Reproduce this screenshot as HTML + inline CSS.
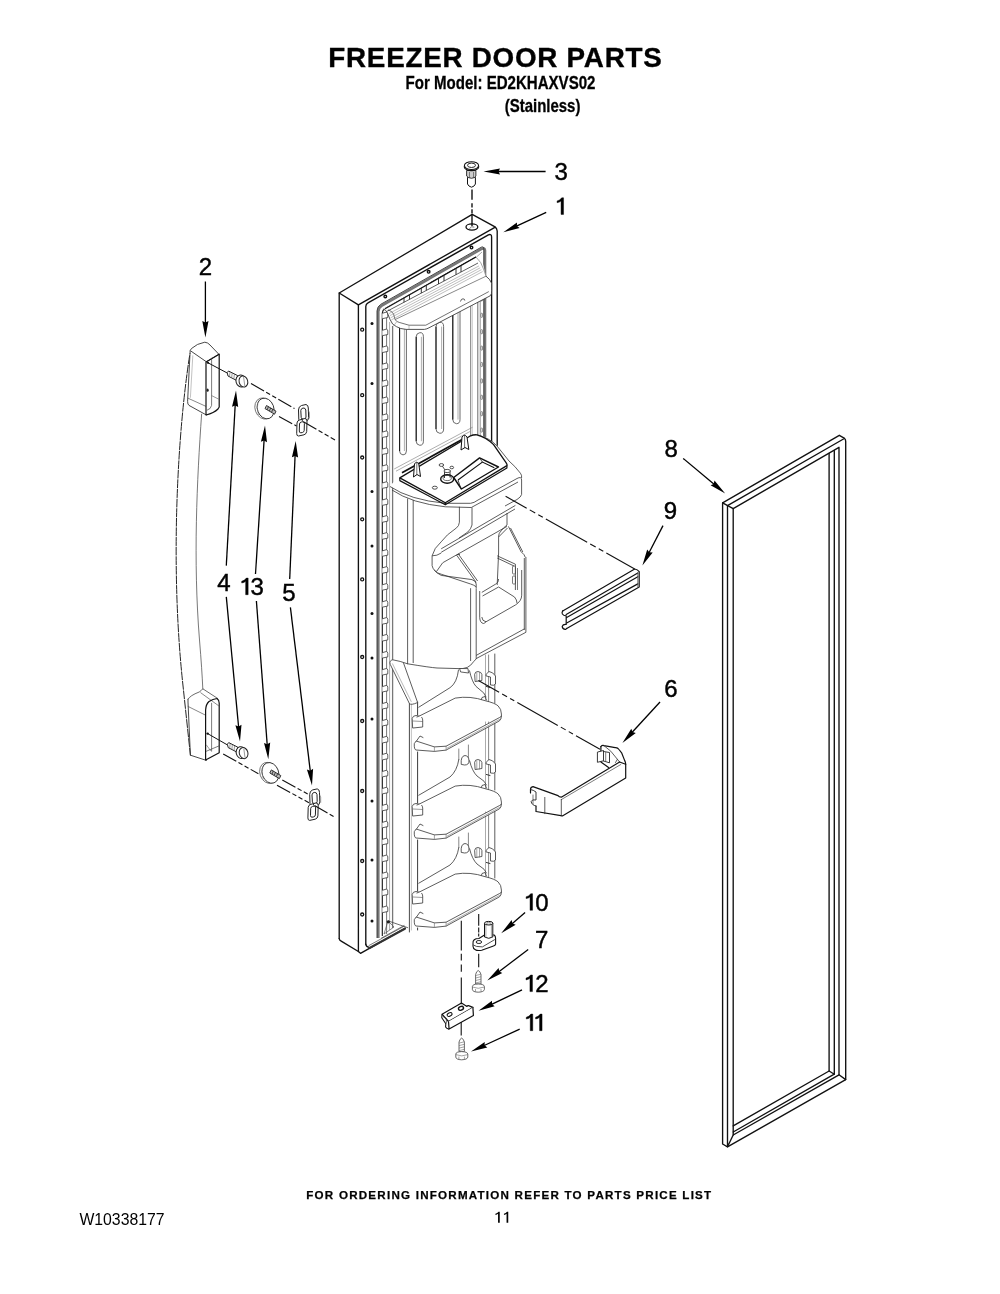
<!DOCTYPE html>
<html><head><meta charset="utf-8"><title>Freezer Door Parts</title>
<style>
html,body{margin:0;padding:0;background:#fff;}
body{width:1000px;height:1294px;overflow:hidden;position:relative;font-family:"Liberation Sans",sans-serif;}
svg{position:absolute;left:0;top:0;}
.k{fill:none;stroke:#111;stroke-width:1.35;stroke-linejoin:round;stroke-linecap:round;}
.m{fill:none;stroke:#222;stroke-width:1;stroke-linejoin:round;stroke-linecap:round;}
.t{fill:none;stroke:#444;stroke-width:0.7;stroke-linejoin:round;stroke-linecap:round;}
.g{fill:none;stroke:#888;stroke-width:0.8;}
.w{fill:#fff;}
.lbl{font-family:"Liberation Sans",sans-serif;font-size:22.5px;fill:#000;}
</style></head>
<body>
<svg width="1000" height="1294" viewBox="0 0 1000 1294">
<!-- text -->
<g opacity="0.999">
<g font-family="Liberation Sans, sans-serif" fill="#000">
<text x="328.3" y="66.7" font-size="27.8" font-weight="bold" letter-spacing="0.75" stroke="#000" stroke-width="0.35">FREEZER DOOR PARTS</text>
<text transform="translate(405.6,88.7) scale(0.828,1)" font-size="18.2" font-weight="bold" stroke="#000" stroke-width="0.3">For Model: ED2KHAXVS02</text>
<text transform="translate(504.7,111.8) scale(0.823,1)" font-size="18.2" font-weight="bold" stroke="#000" stroke-width="0.3">(Stainless)</text>
<text transform="translate(306.3,1198.7) scale(1.0,1)" font-size="11.6" font-weight="bold" letter-spacing="1.23" stroke="#000" stroke-width="0.25">FOR ORDERING INFORMATION REFER TO PARTS PRICE LIST</text>
<text x="79.4" y="1225" font-size="15.8">W10338177</text>
</g>
<g fill="#000"><path d="M498.05,1222.75 V1213.87 Q497.18,1214.80 495.45,1215.00 V1213.80 Q497.44,1213.47 498.50,1211.75 H499.75 V1222.75 Z" fill="#000"/><path d="M506.55,1222.75 V1213.87 Q505.68,1214.80 503.95,1215.00 V1213.80 Q505.94,1213.47 507.00,1211.75 H508.25 V1222.75 Z" fill="#000"/></g>
<g font-family="Liberation Sans, sans-serif" font-size="24" fill="#000" stroke="#000" stroke-width="0.45">
<text x="561.20" y="180.00" text-anchor="middle">3</text>
<path d="M561.05,214.40 V201.00 Q559.70,202.40 557.10,202.70 V200.90 Q560.10,200.40 561.70,197.80 H563.55 V214.40 Z" fill="#000"/>
<text x="205.50" y="274.70" text-anchor="middle">2</text>
<text x="671.20" y="456.50" text-anchor="middle">8</text>
<text x="670.40" y="519.00" text-anchor="middle">9</text>
<text x="671.00" y="697.00" text-anchor="middle">6</text>
<text x="224.00" y="590.60" text-anchor="middle">4</text>
<path d="M245.65,594.70 V581.30 Q244.30,582.70 241.70,583.00 V581.20 Q244.70,580.70 246.30,578.10 H248.15 V594.70 Z" fill="#000"/>
<text x="257.10" y="595.15" text-anchor="middle">3</text>
<text x="289.00" y="601.00" text-anchor="middle">5</text>
<path d="M530.05,910.30 V896.90 Q528.70,898.30 526.10,898.60 V896.80 Q529.10,896.30 530.70,893.70 H532.55 V910.30 Z" fill="#000"/>
<text x="542.00" y="910.60" text-anchor="middle">0</text>
<text x="541.80" y="948.00" text-anchor="middle">7</text>
<path d="M529.95,991.60 V978.20 Q528.60,979.60 526.00,979.90 V978.10 Q529.00,977.60 530.60,975.00 H532.45 V991.60 Z" fill="#000"/>
<text x="541.90" y="991.60" text-anchor="middle">2</text>
<path d="M530.25,1030.70 V1017.30 Q528.90,1018.70 526.30,1019.00 V1017.20 Q529.30,1016.70 530.90,1014.10 H532.75 V1030.70 Z" fill="#000"/>
<path d="M539.55,1030.70 V1017.30 Q538.20,1018.70 535.60,1019.00 V1017.20 Q538.60,1016.70 540.20,1014.10 H542.05 V1030.70 Z" fill="#000"/>
</g>
</g>

<!-- gasket -->
<g class="k">
<path d="M722.6,1144 V502.8 L839.3,435.3 L844.6,438.4 Q845.7,439.3 845.7,441.5 V1079.6 L727.5,1146.8 L722.6,1144"/>
<path d="M722.6,502.8 L733.2,508.7 L839,447.3 V1074.8 L845.7,1079.6"/>
<path d="M727.5,505.6 L843.5,439"/>
<path d="M727.5,505.6 V1146.8 L733.2,1135 V508.7"/>
<path d="M829.1,453.3 V1071 L834.3,1074.2 V450.4"/>
<path d="M733.2,1125.8 L829.1,1071"/>
<path d="M733.2,1132 L834.3,1074.2"/>
<path d="M733.2,1135 L839,1074.8"/>
</g>

<!-- handle -->
<g fill="none" stroke-linejoin="round" stroke-linecap="round">
<!-- handle bar: dashed outer line and inner line -->
<path d="M189.6,355.8 C178,430 170,560 182.4,680 L190.4,755.2" stroke="#222" stroke-width="1" stroke-dasharray="8 1.6"/>
<path d="M201.6,414.2 C197,480 193,560 199.5,640 Q202,670 202.8,688.8" stroke="#555" stroke-width="0.8"/>
<!-- top cap -->
<path d="M190,353.4 Q189.5,350 191.5,348.5 Q197,343.5 204.8,342.2 Q208,342.5 210,345 L218.8,354.2 L206.4,361.8 L190.8,351" stroke="#333" stroke-width="0.9"/>
<path d="M190,353.4 L187.6,401.4 Q187.6,404.5 189,405.4 L206.4,415" stroke="#333" stroke-width="0.9"/>
<path d="M192.8,355.8 L190.4,397.4" stroke="#999" stroke-width="0.6"/>
<path d="M188,398.2 L205.6,406.2" stroke="#555" stroke-width="0.7"/>
<path d="M206,362.2 V415 Q214,413 218,409 L219.2,407 V354.2" stroke="#111" stroke-width="1.2"/>
<path d="M206.4,361.8 L218.8,354.6" stroke="#111" stroke-width="1.1"/>
<path d="M211.6,358.2 V405.4 Q211,409 207.2,410.2" stroke="#444" stroke-width="0.7"/>
<path d="M212,395.8 L218.4,399" stroke="#555" stroke-width="0.6"/>
<circle cx="208" cy="362.8" r="1.1" fill="#111" stroke="none"/>
<ellipse cx="207.6" cy="390.2" rx="1.1" ry="1.6" fill="#222" stroke="none"/>
<path d="M208,362.8 L227.2,373" stroke="#111" stroke-width="1"/>
<!-- lower cap -->
<path d="M188,699.2 Q190,695.5 199.2,692 Q201.5,690.5 202.8,688.8 L217.6,698.4" stroke="#444" stroke-width="0.8"/>
<path d="M188,699.2 V702 L190.4,755.2 L206.4,760.4" stroke="#333" stroke-width="0.9"/>
<path d="M188,706.4 L205.6,715.2" stroke="#555" stroke-width="0.7"/>
<path d="M200.8,692.8 L218.4,705.6" stroke="#555" stroke-width="0.7"/>
<path d="M205.6,760 V710 Q206,704 209,701.5 Q213,699 217,698.5 Q219.2,700 219.2,703 V752.8 Z" stroke="#111" stroke-width="1.2"/>
<path d="M211.6,703.2 V751.2 M206.4,751.2 L218.8,746" stroke="#444" stroke-width="0.7"/>
<path d="M206.4,745 L210.5,750.5" stroke="#555" stroke-width="0.6"/>
<circle cx="207.6" cy="733.6" r="1.2" fill="#111" stroke="none"/>
<path d="M207.6,733.6 L227.2,744.8" stroke="#111" stroke-width="1"/>
</g>
<!-- screws 4 -->
<g id="scr4" fill="#fff" stroke="#222" stroke-width="1" stroke-linejoin="round">
<path d="M227.2,372.6 L228.5,371 L237.6,375.6 L236.5,380.4 L228,376 Z"/>
<path d="M230,372 L229.5,376.5 M232.2,373 L231.7,377.5 M234.4,374.2 L233.9,378.6" fill="none" stroke="#555" stroke-width="0.6"/>
<ellipse cx="241" cy="381" rx="5" ry="6" transform="rotate(-15 241 381)"/>
<ellipse cx="243.4" cy="381.5" rx="4.3" ry="5.6" transform="rotate(-15 243.4 381.5)"/>
<path d="M243.6,377 L244.8,386" fill="none" stroke="#555" stroke-width="0.6"/>
</g>
<use href="#scr4" transform="translate(0.2,371.6)"/>
<!-- bumpers 13 -->
<g id="bmp13" stroke-linejoin="round">
<ellipse cx="263.6" cy="408.5" rx="8.5" ry="10.8" transform="rotate(-20 263.6 408.5)" fill="#fff" stroke="#666" stroke-width="0.8"/>
<ellipse cx="265.6" cy="408.5" rx="8.2" ry="10.6" transform="rotate(-20 265.6 408.5)" fill="#fff" stroke="#333" stroke-width="0.9"/>
<path d="M258.2,402 Q256,408 258.5,415" fill="none" stroke="#888" stroke-width="0.6"/>
<path d="M266.5,405.5 L276,411.2 L274.6,414.2 L265,408.6 Z" fill="#bbb" stroke="#222" stroke-width="0.9"/>
<path d="M268.5,406.5 L267.2,409.8 M270.7,407.8 L269.4,411 M272.9,409 L271.6,412.3" fill="none" stroke="#222" stroke-width="0.8"/>
</g>
<use href="#bmp13" transform="translate(4.8,364.4)"/>
<!-- clips 5 -->
<g id="clip5" fill="none" stroke="#222" stroke-width="1" stroke-linejoin="round">
<path d="M298.5,410 Q298.5,406.5 301.5,405.5 L306,404.5 Q308.3,405 308.3,408 L308.6,417.5 Q308.5,420.5 306,421.5 L301.5,422.5 Q298.8,422.6 298.8,419.5 Z" fill="#fff"/>
<path d="M300.8,410.5 Q301,408.5 303,408 Q305.5,407.8 305.8,410 L306,417 Q305.8,419 304,419.3 Q301.5,419.8 301.2,417.5 Z"/>
<path d="M297,423 Q297.2,420.6 299.5,420 L304.8,418.5 Q307,418.5 307,421 L306.7,431.5 Q306.5,434 304,434.8 L298.5,436 Q296.6,436 296.7,433.5 Z" fill="#fff"/>
<path d="M299.5,424 Q299.7,422.3 301.4,422 L303,421.7 Q304.5,421.8 304.4,423.5 L304.2,430.5 Q304,432.2 302.4,432.5 L300.8,432.8 Q299.2,432.8 299.3,431 Z"/>
<path d="M302.3,418.5 V421" stroke="#333"/>
<path d="M308.3,410.5 L309.5,412.5 V418.5" stroke="#666" stroke-width="0.6"/>
</g>
<use href="#clip5" transform="translate(11.2,384.4)"/>
<!-- dash-dot assembly lines -->
<g fill="none" stroke="#111" stroke-width="1.1" stroke-dasharray="15 2.5 4.5 2.5 4.5 2.5">
<path d="M251,383.5 L294.5,408.5"/>
<path d="M303.4,421.7 L335,439.9"/>
<path d="M279,416.5 L296.5,426"/>
<path d="M223.2,754 L258.4,773.7"/>
<path d="M277,785.2 L308.9,802.7"/>
<path d="M314.5,805.5 L334.5,817"/>
<path d="M282.3,780 L308,794.2"/>
</g>

<!-- door -->
<g class="k">
<!-- top face -->
<path d="M339.2,938.6 V293 L472.2,214.4 L494.6,226.6 Q497.2,228.2 497.2,231 V451"/>
<path d="M339.2,293 L358.4,304.8 L495.3,227.2"/>
<path d="M358.4,304.8 V951.5 L360.5,953.3 L405.3,928.1"/>
<path d="M339.2,938.6 Q339.4,940.3 341.2,941.2 L358.4,951.5"/>
<!-- inner frame of front face -->
<path d="M365.8,944.2 V306.5 Q365.8,304 368,302.9 L488.4,234.8 Q491.6,233.6 491.6,237 V444"/>
<path d="M365.8,944.2 Q366.2,946.8 368.6,947.2" />
</g>
<!-- hatched bottom strip -->
<path d="M368.6,947.2 L405.3,927.2 L405.8,929.5 L369.5,949.2 Z" fill="#333"/>
<g class="t">
<path d="M369,945.5 L404,926.3"/>
<path d="M381.5,938 L404,925.6"/>
</g>
<!-- top hole & screw dots on top face front strip -->
<ellipse cx="471.9" cy="227" rx="5.9" ry="3.1" class="k" stroke-width="1.2"/>
<path d="M469.5,228.5 q2,-3 4.5,-1.5" class="t"/>
<g fill="#fff" stroke="#111" stroke-width="1.4">
<circle cx="385.3" cy="296.5" r="1.3"/>
<circle cx="428.6" cy="271.8" r="1.3"/>
<circle cx="471.5" cy="247.6" r="1.3"/>
</g>
<!-- left strip screw rings and dots -->
<g fill="#fff" stroke="#111" stroke-width="1.3">
<circle cx="362.2" cy="329.7" r="1.5"/>
<circle cx="362.2" cy="395.2" r="1.5"/>
<circle cx="362.2" cy="457.5" r="1.5"/>
<circle cx="362.2" cy="519.3" r="1.5"/>
<circle cx="362.2" cy="579.4" r="1.5"/>
<circle cx="362.2" cy="657" r="1.5"/>
<circle cx="362.2" cy="721" r="1.5"/>
<circle cx="362.2" cy="791" r="1.5"/>
<circle cx="362.2" cy="861" r="1.5"/>
<circle cx="362.2" cy="914.5" r="1.5"/>
</g>
<g fill="#111">
<circle cx="372" cy="323.4" r="1.5"/>
<circle cx="372" cy="383.6" r="1.5"/>
<circle cx="372" cy="491.6" r="1.5"/>
<circle cx="372" cy="546" r="1.5"/>
<circle cx="372" cy="613.5" r="1.5"/>
<circle cx="372" cy="658" r="1.5"/>
<circle cx="372" cy="719" r="1.5"/>
<circle cx="372" cy="801" r="1.5"/>
<circle cx="372" cy="860" r="1.5"/>
<circle cx="372" cy="921" r="1.5"/>
</g>

<!-- liner -->
<g>
<path d="M378.3,938 V311.5 Q378.5,307.5 381.8,305.6 L482,248.7 Q485,247.6 485,250.5 V437" fill="none" stroke="#777" stroke-width="2.6"/>
<path d="M377,938 V311 Q377.2,306.5 380.6,304.4 L481.3,247.2 Q483.8,246 483.8,249 V436" fill="none" stroke="#333" stroke-width="0.9"/>
<path d="M382.3,936 V313 Q382.5,310 385,308.8 L476,257" fill="none" stroke="#111" stroke-width="1.1"/>
<path d="M386.6,934 V316" fill="none" stroke="#555" stroke-width="0.8"/>
<path d="M382.3,313.3 L386.3,312.1 Q387.8,312.5 387.8,313.9 V317.5 L382.3,318.7" fill="#fff" stroke="#333" stroke-width="0.8"/>
<path d="M382.3,330.3 L386.3,329.1 Q387.8,329.5 387.8,330.9 V334.5 L382.3,335.7" fill="#fff" stroke="#333" stroke-width="0.8"/>
<path d="M382.3,347.2 L386.3,346.0 Q387.8,346.4 387.8,347.8 V351.4 L382.3,352.6" fill="#fff" stroke="#333" stroke-width="0.8"/>
<path d="M382.3,364.2 L386.3,363.0 Q387.8,363.4 387.8,364.8 V368.4 L382.3,369.6" fill="#fff" stroke="#333" stroke-width="0.8"/>
<path d="M382.3,381.2 L386.3,380.0 Q387.8,380.4 387.8,381.8 V385.4 L382.3,386.6" fill="#fff" stroke="#333" stroke-width="0.8"/>
<path d="M382.3,398.2 L386.3,397.0 Q387.8,397.4 387.8,398.8 V402.4 L382.3,403.6" fill="#fff" stroke="#333" stroke-width="0.8"/>
<path d="M382.3,415.1 L386.3,413.9 Q387.8,414.3 387.8,415.7 V419.3 L382.3,420.5" fill="#fff" stroke="#333" stroke-width="0.8"/>
<path d="M382.3,432.1 L386.3,430.9 Q387.8,431.3 387.8,432.7 V436.3 L382.3,437.5" fill="#fff" stroke="#333" stroke-width="0.8"/>
<path d="M382.3,449.1 L386.3,447.9 Q387.8,448.3 387.8,449.7 V453.3 L382.3,454.5" fill="#fff" stroke="#333" stroke-width="0.8"/>
<path d="M382.3,466.0 L386.3,464.8 Q387.8,465.2 387.8,466.6 V470.2 L382.3,471.4" fill="#fff" stroke="#333" stroke-width="0.8"/>
<path d="M382.3,483.0 L386.3,481.8 Q387.8,482.2 387.8,483.6 V487.2 L382.3,488.4" fill="#fff" stroke="#333" stroke-width="0.8"/>
<path d="M382.3,500.0 L386.3,498.8 Q387.8,499.2 387.8,500.6 V504.2 L382.3,505.4" fill="#fff" stroke="#333" stroke-width="0.8"/>
<path d="M382.3,516.9 L386.3,515.7 Q387.8,516.1 387.8,517.5 V521.1 L382.3,522.3" fill="#fff" stroke="#333" stroke-width="0.8"/>
<path d="M382.3,533.9 L386.3,532.7 Q387.8,533.1 387.8,534.5 V538.1 L382.3,539.3" fill="#fff" stroke="#333" stroke-width="0.8"/>
<path d="M382.3,550.9 L386.3,549.7 Q387.8,550.1 387.8,551.5 V555.1 L382.3,556.3" fill="#fff" stroke="#333" stroke-width="0.8"/>
<path d="M382.3,567.9 L386.3,566.7 Q387.8,567.1 387.8,568.5 V572.1 L382.3,573.3" fill="#fff" stroke="#333" stroke-width="0.8"/>
<path d="M382.3,584.8 L386.3,583.6 Q387.8,584.0 387.8,585.4 V589.0 L382.3,590.2" fill="#fff" stroke="#333" stroke-width="0.8"/>
<path d="M382.3,601.8 L386.3,600.6 Q387.8,601.0 387.8,602.4 V606.0 L382.3,607.2" fill="#fff" stroke="#333" stroke-width="0.8"/>
<path d="M382.3,618.8 L386.3,617.6 Q387.8,618.0 387.8,619.4 V623.0 L382.3,624.2" fill="#fff" stroke="#333" stroke-width="0.8"/>
<path d="M382.3,635.7 L386.3,634.5 Q387.8,634.9 387.8,636.3 V639.9 L382.3,641.1" fill="#fff" stroke="#333" stroke-width="0.8"/>
<path d="M382.3,652.7 L386.3,651.5 Q387.8,651.9 387.8,653.3 V656.9 L382.3,658.1" fill="#fff" stroke="#333" stroke-width="0.8"/>
<path d="M382.3,669.7 L386.3,668.5 Q387.8,668.9 387.8,670.3 V673.9 L382.3,675.1" fill="#fff" stroke="#333" stroke-width="0.8"/>
<path d="M382.3,686.6 L386.3,685.4 Q387.8,685.8 387.8,687.2 V690.8 L382.3,692.0" fill="#fff" stroke="#333" stroke-width="0.8"/>
<path d="M382.3,703.6 L386.3,702.4 Q387.8,702.8 387.8,704.2 V707.8 L382.3,709.0" fill="#fff" stroke="#333" stroke-width="0.8"/>
<path d="M382.3,720.6 L386.3,719.4 Q387.8,719.8 387.8,721.2 V724.8 L382.3,726.0" fill="#fff" stroke="#333" stroke-width="0.8"/>
<path d="M382.3,737.6 L386.3,736.4 Q387.8,736.8 387.8,738.2 V741.8 L382.3,743.0" fill="#fff" stroke="#333" stroke-width="0.8"/>
<path d="M382.3,754.5 L386.3,753.3 Q387.8,753.7 387.8,755.1 V758.7 L382.3,759.9" fill="#fff" stroke="#333" stroke-width="0.8"/>
<path d="M382.3,771.5 L386.3,770.3 Q387.8,770.7 387.8,772.1 V775.7 L382.3,776.9" fill="#fff" stroke="#333" stroke-width="0.8"/>
<path d="M382.3,788.5 L386.3,787.3 Q387.8,787.7 387.8,789.1 V792.7 L382.3,793.9" fill="#fff" stroke="#333" stroke-width="0.8"/>
<path d="M382.3,805.4 L386.3,804.2 Q387.8,804.6 387.8,806.0 V809.6 L382.3,810.8" fill="#fff" stroke="#333" stroke-width="0.8"/>
<path d="M382.3,822.4 L386.3,821.2 Q387.8,821.6 387.8,823.0 V826.6 L382.3,827.8" fill="#fff" stroke="#333" stroke-width="0.8"/>
<path d="M382.3,839.4 L386.3,838.2 Q387.8,838.6 387.8,840.0 V843.6 L382.3,844.8" fill="#fff" stroke="#333" stroke-width="0.8"/>
<path d="M382.3,856.3 L386.3,855.1 Q387.8,855.5 387.8,856.9 V860.5 L382.3,861.7" fill="#fff" stroke="#333" stroke-width="0.8"/>
<path d="M382.3,873.3 L386.3,872.1 Q387.8,872.5 387.8,873.9 V877.5 L382.3,878.7" fill="#fff" stroke="#333" stroke-width="0.8"/>
<path d="M382.3,890.3 L386.3,889.1 Q387.8,889.5 387.8,890.9 V894.5 L382.3,895.7" fill="#fff" stroke="#333" stroke-width="0.8"/>
<path d="M382.3,907.3 L386.3,906.1 Q387.8,906.5 387.8,907.9 V911.5 L382.3,912.7" fill="#fff" stroke="#333" stroke-width="0.8"/>
<path d="M389.6,930 V322" fill="none" stroke="#888" stroke-width="0.7"/>
<path d="M392.6,928 V326" fill="none" stroke="#777" stroke-width="1.3"/>
<path d="M386,312.5 L480,259.2" fill="none" stroke="#777" stroke-width="0.6"/>
<path d="M388,314.5 L481,261.8" fill="none" stroke="#777" stroke-width="0.6"/>
<path d="M470.6,290 V437" fill="none" stroke="#555" stroke-width="0.7"/>
<path d="M472.2,288 V436" fill="none" stroke="#999" stroke-width="0.6"/>
<path d="M477.8,270 V436" fill="none" stroke="#444" stroke-width="0.8"/>
<path d="M480.2,268 V438" fill="none" stroke="#666" stroke-width="0.7"/>
<rect x="480.9" y="296.8" width="1.6" height="4.2" rx="0.8" fill="#fff" stroke="#444" stroke-width="0.6"/>
<rect x="480.9" y="313.2" width="1.6" height="4.2" rx="0.8" fill="#fff" stroke="#444" stroke-width="0.6"/>
<rect x="480.9" y="329.6" width="1.6" height="4.2" rx="0.8" fill="#fff" stroke="#444" stroke-width="0.6"/>
<rect x="480.9" y="346.0" width="1.6" height="4.2" rx="0.8" fill="#fff" stroke="#444" stroke-width="0.6"/>
<rect x="480.9" y="362.4" width="1.6" height="4.2" rx="0.8" fill="#fff" stroke="#444" stroke-width="0.6"/>
<rect x="480.9" y="378.8" width="1.6" height="4.2" rx="0.8" fill="#fff" stroke="#444" stroke-width="0.6"/>
<rect x="480.9" y="395.2" width="1.6" height="4.2" rx="0.8" fill="#fff" stroke="#444" stroke-width="0.6"/>
<rect x="480.9" y="411.6" width="1.6" height="4.2" rx="0.8" fill="#fff" stroke="#444" stroke-width="0.6"/>
<rect x="480.9" y="428.0" width="1.6" height="4.2" rx="0.8" fill="#fff" stroke="#444" stroke-width="0.6"/>
<path d="M399.6,451.0 V323.4 Q399.6,320 403.0,319.5 Q406.4,319 406.4,323.4 V451.0 Q406.4,454.9 403.0,454.9 Q399.6,454.4 399.6,451.0 Z" fill="#fff" stroke="#444" stroke-width="0.8"/>
<path d="M399.6,451.0 V323.4" fill="none" stroke="#111" stroke-width="1"/>
<path d="M404.4,451.0 V323.4" fill="none" stroke="#777" stroke-width="0.6"/>
<path d="M416.2,441.20000000000005 V336.79999999999995 Q416.2,333.2 419.79999999999995,332.7 Q423.4,332.2 423.4,336.79999999999995 V441.20000000000005 Q423.4,445.3 419.79999999999995,445.3 Q416.2,444.8 416.2,441.20000000000005 Z" fill="#fff" stroke="#444" stroke-width="0.8"/>
<path d="M416.2,441.20000000000005 V336.79999999999995" fill="none" stroke="#111" stroke-width="1"/>
<path d="M421.4,441.20000000000005 V336.79999999999995" fill="none" stroke="#777" stroke-width="0.6"/>
<path d="M436,429.0 V326.6 Q436,322.8 439.8,322.3 Q443.6,321.8 443.6,326.6 V429.0 Q443.6,433.3 439.8,433.3 Q436,432.8 436,429.0 Z" fill="#fff" stroke="#444" stroke-width="0.8"/>
<path d="M436,429.0 V326.6" fill="none" stroke="#111" stroke-width="1"/>
<path d="M441.6,429.0 V326.6" fill="none" stroke="#777" stroke-width="0.6"/>
<path d="M452.8,419.6 V308.6 Q452.8,305 456.4,304.5 Q460,304 460,308.6 V419.6 Q460,423.7 456.4,423.7 Q452.8,423.2 452.8,419.6 Z" fill="#fff" stroke="#444" stroke-width="0.8"/>
<path d="M452.8,419.6 V308.6" fill="none" stroke="#111" stroke-width="1"/>
<path d="M458,419.6 V308.6" fill="none" stroke="#777" stroke-width="0.6"/>
<path d="M383.5,309 L476.2,257.3 Q481,259 483,264 L486,276.2 Q490,279 491.6,283.2 V290.2 Q492,294.5 490.2,295.8 L429,327.8 Q427,329 424.4,329.4 L406.2,329.4 Q400,329 396.4,326.6 Q392,325 390.1,319.6 L387.3,312.6 Q386,310 383.5,309 Z" fill="#fff" stroke="none"/>
<path d="M383.5,309 Q386,310 387.3,312.6 L390.1,319.6 Q392,325 396.4,326.6 Q400,329 406.2,329.4 L424.4,329.4 Q427,329 429,327.8 L490.2,295.8 Q492,294.5 491.6,290.2 V283.2 Q490,279 486,276.2" fill="none" stroke="#333" stroke-width="0.85"/>
<path d="M388,309.8 Q392,311 393.6,314 L395,319.6 Q397,322 399.2,322.4 L409,325.2 L425.8,325.2 L488.8,291.6" fill="none" stroke="#444" stroke-width="0.75"/>
<path d="M395,319.6 L486,276.2" fill="none" stroke="#555" stroke-width="0.7"/>
<path d="M385,308.8 L476,257" fill="none" stroke="#111" stroke-width="1.1"/>
<path d="M387,311.3 L478,263" fill="none" stroke="#333" stroke-width="0.8"/>
<path d="M389.0,313.6 L479.0,265.9" fill="none" stroke="#888" stroke-width="0.55"/>
<path d="M389.8,315.7 L480.2,267.8" fill="none" stroke="#888" stroke-width="0.55"/>
<path d="M390.6,317.8 L481.4,269.7" fill="none" stroke="#888" stroke-width="0.55"/>
<path d="M391.4,319.9 L482.6,271.6" fill="none" stroke="#888" stroke-width="0.55"/>
<path d="M476.2,257.3 L482,252 M476.2,257.3 Q481.5,262 483.5,269 L486,276.2" fill="none" stroke="#666" stroke-width="0.6"/>
<path d="M409,325.2 V329.4 M396.5,322 L393.5,326" fill="none" stroke="#888" stroke-width="0.55"/>
<path d="M460.5,301.5 Q461,298.8 463,298.8 Q465,299 464.8,300.6" fill="none" stroke="#333" stroke-width="0.8"/>
<path d="M404,298.0 V302.3 M409.5,294.9 V299.4" fill="none" stroke="#222" stroke-width="0.9"/>
<path d="M421.3,288.1 V293.1 M426.3,285.3 V290.4" fill="none" stroke="#222" stroke-width="0.9"/>
<path d="M438.5,278.4 V284.0 M444,275.2 V281.0" fill="none" stroke="#222" stroke-width="0.9"/>
<path d="M456,268.4 V274.7 M461,265.6 V272.0" fill="none" stroke="#222" stroke-width="0.9"/>
</g>
<!-- dispenser -->
<g>
<!-- white backing of dispenser body to hide liner lines -->
<path d="M390,486 Q395,480 404,474 L469,436 Q478,433 490,440 Q505,450 516,467 Q522,472 522,478 V496 Q519,502 510,510 L507,525 Q520,548 526,558 V632 L476.5,660 Q470,667 462,668.7 L437,668 L407.6,663.8 V498 Z" fill="#fff"/>
<g fill="none" stroke="#333" stroke-width="0.8" stroke-linejoin="round">
<!-- cap rim -->
<path d="M390,486.5 Q410,500 445.4,503.3 L470.6,503.3 Q474,503 478,500 L517,478.5 Q521.5,476 521.6,480 V494.5 Q521,497 517,499.5 L505,506"/>
<path d="M392,490 Q412,503.5 445.4,506.8 L471.3,507.5 L518,482"/>
<path d="M476.8,434.8 Q490,438 497,446 L509,461 Q515,466 520.4,473.2 Q522,475 521.6,478"/>
<!-- left verticals -->
<path d="M407.6,498.5 V663.8"/>
<path d="M413.2,500 V663"/>
<!-- neck and funnel -->
<path d="M459.4,506.8 V522.2 Q459,526 456.6,527.8 Q446,535 441.2,541.8 Q434,548 432.1,555.8 V565.6 Q433,571 441.2,575.4 L472,579.6 Q476,581 476.2,584 V588"/>
<path d="M472,507.5 V525 Q471,529 467.8,532 L459,538"/>
<path d="M441.2,548.8 L515.4,505.4"/>
<path d="M441.2,552.3 L515,509"/>
<path d="M442.6,562.8 L507,526.4"/>
<path d="M432.1,555.8 Q437,556 441.2,553"/>
<path d="M436.5,571.5 L442.5,563"/>
<path d="M456.6,555.1 L476.2,582.4"/>
<path d="M458.3,554 L477.6,581"/>
<path d="M456.6,555.1 Q458,553.5 460,554.5"/>
<!-- funnel lower edge -->
<path d="M434.2,570 Q437,573.5 441.2,574.2 L470.6,584 Q474,585 476.2,586.8"/>
<!-- lower body -->
<path d="M470.6,588.2 V661"/>
<path d="M476.2,588.2 V659"/>
<path d="M407.6,663.8 Q430,667.5 437,668 L462.2,668.7 Q468,668 470.6,665.2 Q474,661 476.9,658.2 L525.9,632.3"/>
<path d="M476.2,655.4 L524.5,628.8"/>
<path d="M525.9,557 V632.3"/>
<path d="M524.3,558 V630"/>
<!-- right cradle -->
<path d="M507,513 V525 Q503,528 501.4,530.6 Q498.6,533 498.6,536.2 V553 L497.2,585"/>
<path d="M508.4,526.4 L521,551.6 Q525,555 525.2,557.2"/>
<path d="M510.5,528 L522.8,552"/>
<path d="M498.6,537 L507.5,528"/>
<path d="M497.2,555.8 L515.4,564.2 V590"/>
<path d="M497.2,558 L514,566"/>
<path d="M479.7,591 V617.6 Q480,623 483.5,623.5 Q485,623 486,621.8 L515.4,605 Q521.7,601 521.7,595.2 V570"/>
<path d="M481.8,592.4 L495.8,584 Q498.6,582.6 498.6,579"/>
<path d="M482.5,596 L498.6,587 L514.5,597 Q517,600 517,603"/>
<path d="M486,621.8 Q482,621 481.8,617"/>
</g>
<g fill="none" stroke="#444" stroke-width="0.7">
<rect x="512.5" y="566" width="3" height="8" rx="1"/>
<rect x="512.5" y="576" width="3" height="8" rx="1"/>
<path d="M517.5,568 V590"/>
</g>
<!-- back rail -->
<path d="M394.2,469 L472.6,427.2" fill="none" stroke="#777" stroke-width="0.6"/>
<path d="M396,471.2 L470,431.5" fill="none" stroke="#777" stroke-width="0.6"/>
<path d="M402,472.8 L463,439" fill="none" stroke="#111" stroke-width="1.7"/>
<!-- top plate -->
<path d="M399.8,477.9 L469.8,436.2 Q474,434.5 476.8,434.8 Q486,437 493.6,444.6 L506.2,462.8 Q507.5,465 506.9,465.6 L445.3,502.7 Z" fill="#fff" stroke="#111" stroke-width="1.3" stroke-linejoin="round"/>
<path d="M399.8,477.9 V480.6 L445.3,504.8 L506.9,468 V465.6 M445.3,502.7 V504.8" fill="none" stroke="#111" stroke-width="1.2" stroke-linejoin="round"/>
<!-- chute well -->
<path d="M453.7,477.5 L479.6,457.9 L498.5,467 L461.4,489 Z" fill="#fff" stroke="#111" stroke-width="1.4" stroke-linejoin="round"/>
<path d="M458,480 L482.4,462.1 L494.3,467.7" fill="none" stroke="#111" stroke-width="1.1"/>
<path d="M458,480 L460.5,487.5 M482.4,462.1 L479.6,457.9" fill="none" stroke="#222" stroke-width="0.8"/>
<!-- knob -->
<ellipse cx="447.2" cy="479" rx="6.5" ry="4.2" fill="#fff" stroke="#111" stroke-width="1.4"/>
<ellipse cx="447.2" cy="478" rx="4.2" ry="2.6" fill="none" stroke="#333" stroke-width="0.7"/>
<path d="M444.5,478 V471.5 M450,477.5 V470.5" stroke="#222" stroke-width="0.9" fill="none"/>
<ellipse cx="447.2" cy="471" rx="3.2" ry="1.6" fill="#fff" stroke="#222" stroke-width="0.8"/>
<ellipse cx="451.8" cy="467.5" rx="1.8" ry="1.3" fill="#fff" stroke="#222" stroke-width="0.8"/>
<ellipse cx="441.4" cy="465" rx="2.3" ry="1.4" fill="#fff" stroke="#222" stroke-width="0.8"/>
<path d="M442.5,466.3 L445,470" stroke="#222" stroke-width="0.8"/>
<ellipse cx="434.8" cy="487.7" rx="2.5" ry="1.5" fill="none" stroke="#222" stroke-width="0.8"/>
<!-- clips -->
<path d="M413.5,477 L414.5,464 Q416.5,460.5 418.8,464 L420.5,476.5 L417,474.5 Z" fill="#fff" stroke="#111" stroke-width="1"/>
<path d="M416.8,462 V475" stroke="#333" stroke-width="0.7"/>
<path d="M461,450 L462,437 Q464.5,433.5 467,437 L468.8,449.5 L465,447.5 Z" fill="#fff" stroke="#111" stroke-width="1"/>
<path d="M464.6,435 V448" stroke="#333" stroke-width="0.7"/>
</g>

<!-- shelves -->
<g fill="none" stroke="#333" stroke-width="0.8" stroke-linejoin="round" stroke-linecap="round">
<path d="M409.4,703 V932" stroke="#333" stroke-width="0.9"/>
<path d="M411.4,703 V930" stroke="#999" stroke-width="0.6"/>
<path d="M417.6,702 V715 M417.6,752 V803 M417.6,840 V891 M417.6,928 V930" stroke="#222" stroke-width="0.9"/>
<path d="M485.5,655 V700 M485.5,722 V790 M485.5,812 V878" stroke="#888" stroke-width="0.7"/>
<path d="M488.6,655 V702 M488.6,722 V792 M488.6,812 V880" stroke="#555" stroke-width="0.7"/>
<path d="M494.8,654 V703 M494.8,721 V790 M494.8,810 V878" stroke="#333" stroke-width="0.8"/>
<path d="M407.6,663.8 Q400,661 392.8,659.8 Q389,660.5 390.2,664.3 L409.4,703.5 Q411,705.5 417.6,702.5 L403.6,663.2" fill="#fff"/>
<path d="M392.5,663.8 L411.2,701.5" stroke="#888" stroke-width="0.6"/>
</g>
<g fill="none" stroke="#333" stroke-width="0.8" stroke-linejoin="round" stroke-linecap="round"><path d="M458.5,670.0 Q457,683 450.0,687.7 L418.8,707.2"/><path d="M469.5,670.8 Q472,682 476.0,686.4 L483.8,693.0 L486.0,697.0"/><path d="M460.0,668.5 L468.0,668.6 L468.5,673.0 L461.0,672.0 Z" fill="#fff"/><path d="M474.7,674.0 Q475,671.5 478.0,671.5 Q481.5,672.0 481.9,674.5 V680.5 L475.5,681.5 Z" fill="#fff"/><path d="M476.8,673.0 V681.0 M479.5,672.5 V681.0" stroke="#666" stroke-width="0.6"/><path d="M486.4,674.0 L489.0,671.5 Q493,672.0 495.5,676.0 V684.0 Q494,686.0 490.5,685.0 L490.5,677.0 L486.4,676.0 Z" fill="#fff"/><path d="M486.4,686.5 L490.0,687.5" stroke="#333" stroke-width="1"/><path d="M480.5,702.0 L482.0,697.5 L485.0,696.5 L486.5,700.0"/><path d="M412.3,718.0 Q413,715.5 416.0,715.5 L421.0,716.5 Q422.7,718.0 422.7,720.0 V727.0 L413.0,728.0 Z" fill="#fff"/><path d="M413.0,721.0 L422.5,721.5" stroke="#555" stroke-width="0.6"/><path d="M416.9,717.0 L418.8,716.3 L455.2,698.1 Q470,695.5 485.1,700.7 Q495,703.0 498.1,705.9 Q501.4,709.0 501.4,714.0 V716.3 L499.4,717.6 L446.1,746.2 L434.4,746.9 L416.2,741.0 L414.3,743.6 Q414,749.5 416.0,750.0 L434.4,751.4 L446.1,750.1 L499.4,720.9 Q501.4,719.5 501.4,716.3" fill="#fff"/><path d="M434.4,746.9 V751.4 M446.1,746.2 V750.1" stroke="#666" stroke-width="0.6"/><path d="M447.0,748.2 L500.4,719.0" stroke="#777" stroke-width="0.6"/><path d="M416.5,741.0 L420.0,736.0 L423.0,737.5" /></g>
<g fill="none" stroke="#333" stroke-width="0.8" stroke-linejoin="round" stroke-linecap="round"><path d="M458.8,759.6 Q457,771.0 450.0,777.0 L418.8,795.2"/><path d="M469.6,760.8 Q472,771.0 477.0,776.0 L484.0,781.2 L486.4,785.0"/><path d="M458.8,749.0 V759.6 M468.4,745.0 V760.8" stroke="#555" stroke-width="0.7"/><path d="M461.2,764.0 Q460.5,756.0 465.0,755.5 Q469,756.0 469.0,761.0 Q469,765.0 465.0,765.0 Z" fill="#fff"/><path d="M474.7,762.0 Q475,759.5 478.0,759.5 Q481.5,760.0 481.9,762.5 V768.5 L475.5,769.5 Z" fill="#fff"/><path d="M476.8,761.0 V769.0 M479.5,760.5 V769.0" stroke="#666" stroke-width="0.6"/><path d="M486.4,762.0 L489.0,759.5 Q493,760.0 495.5,764.0 V772.0 Q494,774.0 490.5,773.0 L490.5,765.0 L486.4,764.0 Z" fill="#fff"/><path d="M486.4,774.5 L490.0,775.5" stroke="#333" stroke-width="1"/><path d="M480.5,790.0 L482.0,785.5 L485.0,784.5 L486.5,788.0"/><path d="M412.3,806.0 Q413,803.5 416.0,803.5 L421.0,804.5 Q422.7,806.0 422.7,808.0 V815.0 L413.0,816.0 Z" fill="#fff"/><path d="M413.0,809.0 L422.5,809.5" stroke="#555" stroke-width="0.6"/><path d="M416.9,805.0 L418.8,804.3 L455.2,786.1 Q470,783.5 485.1,788.7 Q495,791.0 498.1,793.9 Q501.4,797.0 501.4,802.0 V804.3 L499.4,805.6 L446.1,834.2 L434.4,834.9 L416.2,829.0 L414.3,831.6 Q414,837.5 416.0,838.0 L434.4,839.4 L446.1,838.1 L499.4,808.9 Q501.4,807.5 501.4,804.3" fill="#fff"/><path d="M434.4,834.9 V839.4 M446.1,834.2 V838.1" stroke="#666" stroke-width="0.6"/><path d="M447.0,836.2 L500.4,807.0" stroke="#777" stroke-width="0.6"/><path d="M416.5,829.0 L420.0,824.0 L423.0,825.5" /></g>
<g fill="none" stroke="#333" stroke-width="0.8" stroke-linejoin="round" stroke-linecap="round"><path d="M458.8,847.6 Q457,859.0 450.0,865.0 L418.8,883.2"/><path d="M469.6,848.8 Q472,859.0 477.0,864.0 L484.0,869.2 L486.4,873.0"/><path d="M458.8,837.0 V847.6 M468.4,833.0 V848.8" stroke="#555" stroke-width="0.7"/><path d="M461.2,852.0 Q460.5,844.0 465.0,843.5 Q469,844.0 469.0,849.0 Q469,853.0 465.0,853.0 Z" fill="#fff"/><path d="M474.7,850.0 Q475,847.5 478.0,847.5 Q481.5,848.0 481.9,850.5 V856.5 L475.5,857.5 Z" fill="#fff"/><path d="M476.8,849.0 V857.0 M479.5,848.5 V857.0" stroke="#666" stroke-width="0.6"/><path d="M486.4,850.0 L489.0,847.5 Q493,848.0 495.5,852.0 V860.0 Q494,862.0 490.5,861.0 L490.5,853.0 L486.4,852.0 Z" fill="#fff"/><path d="M486.4,862.5 L490.0,863.5" stroke="#333" stroke-width="1"/><path d="M480.5,878.0 L482.0,873.5 L485.0,872.5 L486.5,876.0"/><path d="M412.3,894.0 Q413,891.5 416.0,891.5 L421.0,892.5 Q422.7,894.0 422.7,896.0 V903.0 L413.0,904.0 Z" fill="#fff"/><path d="M413.0,897.0 L422.5,897.5" stroke="#555" stroke-width="0.6"/><path d="M416.9,893.0 L418.8,892.3 L455.2,874.1 Q470,871.5 485.1,876.7 Q495,879.0 498.1,881.9 Q501.4,885.0 501.4,890.0 V892.3 L499.4,893.6 L446.1,922.2 L434.4,922.9 L416.2,917.0 L414.3,919.6 Q414,925.5 416.0,926.0 L434.4,927.4 L446.1,926.1 L499.4,896.9 Q501.4,895.5 501.4,892.3" fill="#fff"/><path d="M434.4,922.9 V927.4 M446.1,922.2 V926.1" stroke="#666" stroke-width="0.6"/><path d="M447.0,924.2 L500.4,895.0" stroke="#777" stroke-width="0.6"/><path d="M416.5,917.0 L420.0,912.0 L423.0,913.5" /></g>
<path d="M387.8,920.8 L408.1,927.8" fill="none" stroke="#444" stroke-width="0.8"/>
<path d="M384,934 L388,921 L394,927 Z" fill="none" stroke="#555" stroke-width="0.7"/>
<circle cx="388.3" cy="921.8" r="1.6" fill="#222"/>
<!-- smallparts -->
<g fill="none" stroke="#111" stroke-width="1.2" stroke-linejoin="round" stroke-linecap="round">
<!-- part 9: bar -->
<path d="M562.7,610.9 L634.7,569 Q637.5,569.5 639.2,571.7 V587 L566.7,628.4"/>
<path d="M566.2,614.6 L637.8,573"/>
<path d="M566.7,617.6 L637.8,576.7"/>
<path d="M566.7,623 L637.8,583.9"/>
<path d="M562.7,610.9 Q561.6,612.5 562.4,614 Q563.5,615.8 566.2,615.8 V624.4 Q563,624 562.2,626.4 Q562.5,629.6 565.8,629.3 L566.7,628.4"/>
<path d="M637.8,573 V587" stroke-width="0.8" stroke="#555"/>
</g>
<!-- part 6: door bin -->
<g fill="none" stroke="#111" stroke-width="1.2" stroke-linejoin="round" stroke-linecap="round">
<path d="M600.9,746.6 Q601.5,745 604,745.6 L615.2,747.7 Q617.5,747.4 619,749.5 L621.8,753.2 L624.6,760.4 Q625.7,762.5 625.7,764.2 V778 L562.4,815.9 L536,811.5 V806"/>
<path d="M619.6,762 L561.3,797.2 Q559,797 558,795.6 L533,786.6 Q530.5,787 530.5,789.5 V793"/>
<path d="M620.8,764.5 L561.3,799.6" stroke="#444" stroke-width="0.7"/>
<path d="M625.7,764.2 L619.6,762"/>
<path d="M544.8,797.4 V813.7 M561.3,799.4 V815.9" stroke="#333" stroke-width="0.8"/>
<path d="M600.9,746.6 V762 L608.6,767.5"/>
<path d="M604,745.6 Q611,750 617.4,759.3 L619.6,762" stroke="#333" stroke-width="0.8"/>
<path d="M617.4,759.3 L615.5,762.5" stroke="#333" stroke-width="0.8"/>
<path d="M597.8,752 L603.5,750.5 V760.8 L597.8,762.2 Z M603.5,751.5 L609.5,752.5 V762.8 L603.5,761" fill="#fff" stroke="#222" stroke-width="0.9"/>
<path d="M605.7,752.5 V761.5" stroke="#444" stroke-width="0.7"/>
<path d="M530.5,789.5 Q533.5,790 536,792 V800 Q532,799 531.2,801.5 Q531.5,805 536,806" stroke="#222" stroke-width="0.9"/>
<path d="M533,795 V804" stroke="#444" stroke-width="0.7"/>
</g>
<!-- part 3: top pin -->
<g stroke-linejoin="round">
<path d="M467.5,177.3 V184 Q468.5,186.5 471.5,187.2 Q474.5,186.5 475.4,184 V177.3 Z" fill="#fff" stroke="#111" stroke-width="1"/>
<path d="M466.6,170.5 V176 Q468,178 471.5,178.3 Q475,178 475.9,176 V170.5 Z" fill="#ccc" stroke="#222" stroke-width="0.9"/>
<path d="M469.5,172 V177 M473.5,172 V177" stroke="#555" stroke-width="0.7"/>
<ellipse cx="471.5" cy="166.8" rx="7.3" ry="3.8" fill="#fff" stroke="#111" stroke-width="1.1"/>
<ellipse cx="471.5" cy="165.6" rx="7.1" ry="3.9" fill="#fff" stroke="#111" stroke-width="1.1"/>
<ellipse cx="471.5" cy="165.3" rx="4" ry="2.2" fill="#fff" stroke="#111" stroke-width="0.9"/>
</g>
<!-- part 10 -->
<g stroke-linejoin="round">
<path d="M473,943.4 Q472.5,938.5 478.9,938.5 L484.5,935 H494.2 Q495.6,936 495.6,938.5 V944.1 Q495.5,945.5 492.8,946.2 L481.7,950.3 Q477,951 475.4,949.7 Q473,948.5 473,946.2 Z" fill="#fff" stroke="#111" stroke-width="1.1"/>
<path d="M473.4,945 Q475,946.8 482.4,946.9 L494.9,939.5" fill="none" stroke="#222" stroke-width="0.8"/>
<path d="M484.5,923.2 V937 Q488.7,939.6 492.8,937 V923.2 Z" fill="#fff" stroke="#111" stroke-width="1"/>
<ellipse cx="488.7" cy="923.2" rx="4.2" ry="1.8" fill="#fff" stroke="#111" stroke-width="1"/>
<ellipse cx="488.7" cy="923.3" rx="2.2" ry="0.9" fill="none" stroke="#666" stroke-width="0.6"/>
<path d="M485.9,925 V938 M491.4,925 V938" stroke="#666" stroke-width="0.6"/>
<ellipse cx="478.9" cy="942" rx="2.8" ry="1.5" fill="#fff" stroke="#111" stroke-width="0.9"/>
</g>
<!-- screw 7 and screw 11 -->
<g id="scr7" stroke-linejoin="round">
<path d="M475.6,984 V974.5 Q476.5,971 478.2,970.5 Q480,971 481,974.5 V984 Z" fill="#fff" stroke="#444" stroke-width="0.8"/>
<path d="M475.6,975.5 L481,974.2 M475.6,978 L481,976.7 M475.6,980.5 L481,979.2 M475.6,983 L481,981.7" stroke="#666" stroke-width="0.6"/>
<path d="M472.4,986.5 Q472.5,984.2 478.2,984 Q484.2,984.2 484.4,986.5 V989.5 Q484,992 478.2,992.2 Q472.6,992 472.4,989.5 Z" fill="#fff" stroke="#444" stroke-width="0.8"/>
<path d="M472.4,987 Q478.2,989.6 484.4,987 M475.5,989 V991.8 M481,989 V991.8" fill="none" stroke="#666" stroke-width="0.6"/>
</g>
<use href="#scr7" transform="translate(-16.6,67.6)"/>
<!-- part 12 -->
<g stroke-linejoin="round">
<path d="M442,1014.2 L461.5,1003.1 L466.9,1006.4 Q467.5,1005.4 468.5,1005.6 L472.9,1007.4 L448.5,1021.5 Z" fill="#fff" stroke="#111" stroke-width="1.2"/>
<path d="M472.9,1007.4 L473.4,1015.6 L449.1,1029.1 L448.5,1021.5" fill="#fff" stroke="#111" stroke-width="1.2"/>
<path d="M442,1014.2 L441.8,1017.7 L445.8,1023.7 L445.6,1026.9 Q446.5,1028.6 449.1,1029.1" fill="none" stroke="#111" stroke-width="1.1"/>
<path d="M443.1,1016.6 L446.4,1018.3 V1023.5" fill="none" stroke="#333" stroke-width="0.7"/>
<ellipse cx="449.6" cy="1014.5" rx="2.6" ry="1.6" transform="rotate(-25 449.6 1014.5)" fill="#fff" stroke="#111" stroke-width="1"/>
<ellipse cx="461" cy="1008.3" rx="2.6" ry="1.8" transform="rotate(-25 461 1008.3)" fill="#fff" stroke="#111" stroke-width="1.4"/>
</g>
<!-- dashed assembly lines -->
<g fill="none" stroke="#111" stroke-width="1.1">
<path d="M472,189.5 V199.7 M472,203.2 V207.4 M472,209.2 V213.4 M472,214.6 V226" stroke="#000" stroke-width="1.3"/>
<path d="M505.6,496.3 L634.7,569" stroke-dasharray="47.4 3.5 6.3 3.5 5.2 3.5" stroke-dashoffset="23.2"/>
<path d="M478.4,680.5 L600,749.3" stroke-dasharray="46.5 3.5 5.6 3.5 4.8 3.5" stroke-dashoffset="22.7"/>
<path d="M478.7,914 V937" stroke-dasharray="11.8 1.7 5 1.1 2.8 10"/>
<path d="M478.7,953.8 V967.3"/>
<path d="M461.3,920.7 V1004.3" stroke-dasharray="29.7 3.4 6.7 4 7.2 5.7 27"/>
<path d="M461.2,1022 V1035.6"/>
</g>

<!-- arrows -->
<g>
<line x1="545.6" y1="171.5" x2="498.0" y2="171.5" stroke="#000" stroke-width="1.3"/>
<path d="M483.5,171.5 L500.0,168.4 L498.5,171.5 L500.0,174.6 Z" fill="#000"/>
<line x1="546.2" y1="212.4" x2="516.5" y2="226.1" stroke="#000" stroke-width="1.3"/>
<path d="M503.3,232.2 L517.0,222.5 L516.9,225.9 L519.6,228.1 Z" fill="#000"/>
<line x1="205.4" y1="281.5" x2="205.4" y2="323.1" stroke="#000" stroke-width="1.3"/>
<path d="M205.4,337.6 L202.3,321.1 L205.4,322.6 L208.5,321.1 Z" fill="#000"/>
<line x1="683.2" y1="458.4" x2="714.1" y2="484.2" stroke="#000" stroke-width="1.3"/>
<path d="M725.2,493.5 L710.6,485.3 L713.7,483.9 L714.5,480.5 Z" fill="#000"/>
<line x1="663.0" y1="525.6" x2="649.0" y2="552.7" stroke="#000" stroke-width="1.3"/>
<path d="M642.4,565.6 L647.2,549.5 L649.3,552.3 L652.7,552.4 Z" fill="#000"/>
<line x1="660.0" y1="702.0" x2="632.2" y2="732.3" stroke="#000" stroke-width="1.3"/>
<path d="M622.4,743.0 L631.3,728.7 L632.5,731.9 L635.8,732.9 Z" fill="#000"/>
<line x1="226.3" y1="565.6" x2="235.2" y2="405.0" stroke="#000" stroke-width="1.3"/>
<path d="M236.0,390.5 L238.2,407.1 L235.2,405.5 L232.0,406.8 Z" fill="#000"/>
<line x1="226.3" y1="596.9" x2="238.6" y2="727.0" stroke="#000" stroke-width="1.3"/>
<path d="M240.0,741.4 L235.4,725.3 L238.6,726.5 L241.5,724.7 Z" fill="#000"/>
<line x1="255.5" y1="574.0" x2="264.1" y2="440.0" stroke="#000" stroke-width="1.3"/>
<path d="M265.0,425.5 L267.0,442.2 L264.0,440.5 L260.9,441.8 Z" fill="#000"/>
<line x1="256.4" y1="601.0" x2="267.2" y2="744.8" stroke="#000" stroke-width="1.3"/>
<path d="M268.3,759.3 L264.0,743.1 L267.2,744.3 L270.2,742.6 Z" fill="#000"/>
<line x1="289.7" y1="579.0" x2="295.1" y2="455.5" stroke="#000" stroke-width="1.3"/>
<path d="M295.7,441.0 L298.1,457.6 L295.0,456.0 L291.9,457.3 Z" fill="#000"/>
<line x1="290.4" y1="607.3" x2="310.3" y2="771.2" stroke="#000" stroke-width="1.3"/>
<path d="M312.0,785.6 L306.9,769.6 L310.2,770.7 L313.1,768.8 Z" fill="#000"/>
<line x1="525.1" y1="912.5" x2="512.1" y2="923.8" stroke="#000" stroke-width="1.3"/>
<path d="M501.2,933.3 L511.6,920.1 L512.5,923.5 L515.7,924.8 Z" fill="#000"/>
<line x1="528.2" y1="949.6" x2="498.9" y2="971.8" stroke="#000" stroke-width="1.3"/>
<path d="M487.3,980.5 L498.6,968.1 L499.3,971.5 L502.3,973.0 Z" fill="#000"/>
<line x1="522.0" y1="989.8" x2="491.6" y2="1004.4" stroke="#000" stroke-width="1.3"/>
<path d="M478.5,1010.7 L492.0,1000.8 L492.0,1004.2 L494.7,1006.3 Z" fill="#000"/>
<line x1="519.7" y1="1029.2" x2="484.2" y2="1045.5" stroke="#000" stroke-width="1.3"/>
<path d="M471.0,1051.6 L484.7,1041.9 L484.6,1045.3 L487.3,1047.5 Z" fill="#000"/>
</g>
</svg>
</body></html>
